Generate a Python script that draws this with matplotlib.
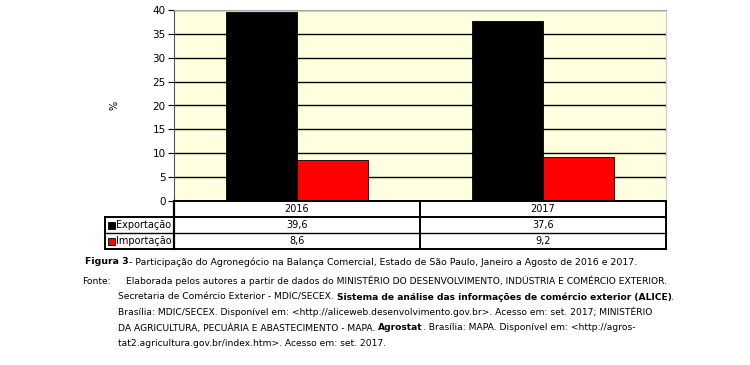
import matplotlib
matplotlib.use('Agg')
import matplotlib.pyplot as plt
from matplotlib.lines import Line2D
from matplotlib.patches import Rectangle
import matplotlib.transforms as mtransforms

# chart data
years = ['2016', '2017']
exportacao = [39.6, 37.6]
importacao = [8.6, 9.2]
series_names = ['Exportação', 'Importação']
series_colors = ['#000000', '#ff0000']
y_ticks = [0, 5, 10, 15, 20, 25, 30, 35, 40]

plt.rcParams['font.family'] = ['DejaVu Sans']

W, H = 750, 365
fig = plt.figure(figsize=(W / 100, H / 100), dpi=100)


def fx(px):
    return px / W


def fy(py):
    return 1 - py / H


# plot area in pixels (left, top, right, bottom)
L, T, R, B = 174, 10, 666, 201
ax = fig.add_axes([fx(L), fy(B), fx(R - L), (B - T) / H])
ax.set_facecolor('#ffffe0')

xs = range(len(years))
bw = 0.29
for i, x in enumerate(xs):
    ax.bar(x - bw / 2, exportacao[i], bw, color=series_colors[0], edgecolor='#000000', lw=0.6, zorder=3)
    ax.bar(x + bw / 2, importacao[i], bw, color=series_colors[1], edgecolor='#000000', lw=0.6, zorder=3)

ax.set_xlim(-0.5, len(years) - 0.5)
ax.set_ylim(0, 40)
ax.set_yticks(y_ticks)
ax.set_yticklabels([str(t) for t in y_ticks], fontsize=7.5)
ax.set_xticks([])
ax.yaxis.grid(True, color='#000000', lw=1.0, zorder=1)
ax.tick_params(axis='y', length=4, width=0.8, pad=2)
ax.spines['left'].set_color('#555555')
ax.spines['top'].set_color('#aaaaaa')
ax.spines['right'].set_color('#cccccc')
ax.spines['bottom'].set_visible(False)
ax.set_ylabel('%', fontsize=7, labelpad=24)

# data table under the plot
rows_y = [217, 233, 249]
TL = 105


def hline(y, x0, x1, lw=1.0):
    fig.add_artist(Line2D([fx(x0), fx(x1)], [fy(y), fy(y)], color='black', lw=lw, transform=fig.transFigure))


def vline(x, y0, y1, lw=1.0):
    fig.add_artist(Line2D([fx(x), fx(x)], [fy(y0), fy(y1)], color='black', lw=lw, transform=fig.transFigure))


hline(B, L, R, 1.4)
hline(rows_y[0], TL, R, 1.4)
hline(rows_y[1], TL, R, 1.0)
hline(rows_y[2], TL, R, 1.4)
vline(TL, rows_y[0], rows_y[2], 1.4)
vline(L, B, rows_y[2], 1.6)
vline((L + R) / 2, B, rows_y[2], 1.4)
vline(R, B, rows_y[2], 1.4)

trans = mtransforms.blended_transform_factory(ax.transData, fig.transFigure)
row_centers = [(B + rows_y[0]) / 2, (rows_y[0] + rows_y[1]) / 2, (rows_y[1] + rows_y[2]) / 2]
for i, yr in enumerate(years):
    ax.text(i, fy(row_centers[0]), yr, transform=trans, ha='center', va='center', fontsize=7)
    ax.text(i, fy(row_centers[1]), f'{exportacao[i]:.1f}'.replace('.', ','),
            transform=trans, ha='center', va='center', fontsize=7)
    ax.text(i, fy(row_centers[2]), f'{importacao[i]:.1f}'.replace('.', ','),
            transform=trans, ha='center', va='center', fontsize=7)

for k, name in enumerate(series_names):
    yc = row_centers[k + 1]
    fig.add_artist(Rectangle((fx(108), fy(yc + 3.5)), fx(7), 7 / H, facecolor=series_colors[k],
                             edgecolor='black', lw=0.6, transform=fig.transFigure))
    fig.text(fx(116), fy(yc), name, ha='left', va='center', fontsize=7)

# caption
renderer = fig.canvas.get_renderer()


def seg_line(x, y, segments, size=6.6):
    cur = fx(x)
    for txt, weight in segments:
        t = fig.text(cur, fy(y), txt, fontsize=size, fontweight=weight, ha='left', va='center')
        bb = t.get_window_extent(renderer)
        cur += bb.width / W


seg_line(85, 262, [('Figura 3', 'bold'),
                   ('- Participação do Agronegócio na Balança Comercial, Estado de São Paulo, Janeiro a Agosto de 2016 e 2017.', 'normal')],
         size=6.75)
seg_line(82, 281, [('Fonte:', 'normal')])
seg_line(126, 281, [('Elaborada pelos autores a partir de dados do MINISTÉRIO DO DESENVOLVIMENTO, INDÚSTRIA E COMÉRCIO EXTERIOR.', 'normal')])
seg_line(118, 297, [('Secretaria de Comércio Exterior - MDIC/SECEX. ', 'normal'),
                    ('Sistema de análise das informações de comércio exterior (ALICE)', 'bold'),
                    ('.', 'normal')])
seg_line(118, 312, [('Brasília: MDIC/SECEX. Disponível em: <http://aliceweb.desenvolvimento.gov.br>. Acesso em: set. 2017; MINISTÉRIO', 'normal')])
seg_line(118, 328, [('DA AGRICULTURA, PECUÁRIA E ABASTECIMENTO - MAPA. ', 'normal'),
                    ('Agrostat', 'bold'),
                    ('. Brasília: MAPA. Disponível em: <http://agros-', 'normal')])
seg_line(118, 344, [('tat2.agricultura.gov.br/index.htm>. Acesso em: set. 2017.', 'normal')])

fig.savefig('out.png', dpi=100, facecolor='white')
